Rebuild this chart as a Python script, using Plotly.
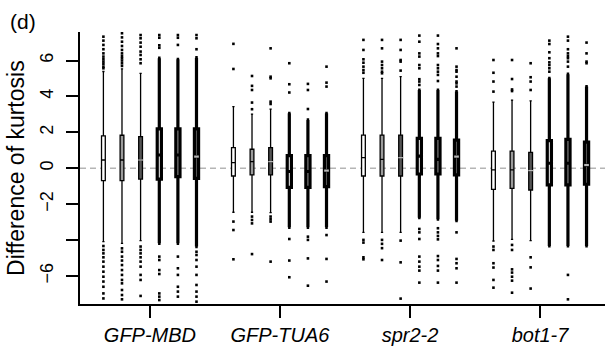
import plotly.graph_objects as go

groups = ["GFP-MBD", "GFP-TUA6", "spr2-2", "bot1-7"]
series = ["s1", "s2", "s3", "s4", "s5", "s6"]

# statistics: one row per series, one value per group
upper_whisker = [
    [5.39, 3.43, 5.01, 3.68],
    [5.54, 3.02, 5.01, 3.80],
    [5.29, 3.29, 5.10, 3.75],
    [6.13, 3.06, 4.36, 5.01],
    [6.07, 2.69, 4.36, 5.24],
    [6.16, 3.06, 4.27, 4.55],
]
q3 = [
    [1.80, 1.15, 1.85, 0.96],
    [1.84, 1.06, 1.85, 0.96],
    [1.76, 1.15, 1.85, 0.89],
    [2.19, 0.70, 1.67, 1.54],
    [2.19, 0.70, 1.67, 1.61],
    [2.19, 0.70, 1.57, 1.46],
]
median = [
    [0.46, 0.31, 0.59, -0.09],
    [0.46, 0.37, 0.50, -0.09],
    [0.46, 0.37, 0.59, -0.13],
    [0.74, -0.18, 0.68, 0.28],
    [0.74, -0.18, 0.50, 0.28],
    [0.65, -0.13, 0.65, 0.18],
]
q1 = [
    [-0.69, -0.43, -0.43, -1.17],
    [-0.69, -0.37, -0.43, -1.12],
    [-0.60, -0.37, -0.43, -1.21],
    [-0.61, -1.06, -0.32, -0.93],
    [-0.47, -1.06, -0.32, -0.93],
    [-0.56, -1.02, -0.37, -0.89],
]
lower_whisker = [
    [-4.09, -2.45, -3.57, -4.05],
    [-4.18, -2.45, -3.57, -3.96],
    [-4.03, -2.47, -3.57, -4.03],
    [-4.18, -3.29, -2.75, -4.33],
    [-4.18, -3.29, -2.84, -4.33],
    [-4.36, -3.29, -2.92, -4.33],
]
outliers = [
    [  # series 1
        [7.33, 7.11, 6.87, 6.63, 6.40, 6.22, 6.07, 5.94, 5.81, 5.66, 5.57,
         -4.33, -4.55, -4.74, -4.96, -5.20, -5.48, -5.76, -6.04, -6.31, -6.60, -6.97, -7.25],
        [6.93, 5.53, -2.97, -3.44, -5.07],
        [7.15, 6.59, 6.07, 5.88, 5.66, 5.47, 5.32, -3.99, -4.14, -4.96, -5.07],
        [6.03, 5.32, 4.83, 4.27, -4.36, -4.55, -5.29, -5.53, -6.22, -6.65],
    ],
    [  # series 2
        [7.52, 7.29, 7.05, 6.81, 6.59, 6.40, 6.25, 6.13, 6.00, 5.85, 5.70,
         -4.46, -4.65, -4.92, -5.14, -5.39, -5.67, -5.94, -6.22, -6.41, -6.78, -7.06, -7.30],
        [5.14, 4.59, 4.36, 3.66, 3.29, -2.69, -2.88, -3.07, -4.78],
        [7.15, 6.68, 5.94, 5.75, 5.57, 5.38, 5.29, -3.99, -4.21, -4.45, -5.11],
        [6.03, 4.97, 4.39, 4.30, -4.27, -4.55, -5.63, -5.81, -6.04, -6.26, -6.93],
    ],
    [  # series 3
        [7.42, 7.24, 7.00, 6.77, 6.50, 6.31, 6.07, 5.85,
         -4.36, -4.55, -4.74, -4.96, -5.20, -5.48, -5.94, -6.22, -7.11],
        [6.68, 5.10, 5.01, 3.71, 3.58, -2.69, -2.84, -2.97, -5.20],
        [7.15, 6.59, 6.03, 5.94, 5.44, -4.03, -5.24, -7.26],
        [5.85, 5.07, 4.83, 4.36, -4.96, -5.52, -6.70],
    ],
    [  # series 4
        [7.42, 7.27, 6.85, 6.71, -4.92, -5.11, -5.67, -5.89, -6.97, -7.15, -7.34],
        [5.85, 4.68, 4.22, -3.94, -5.14, -6.07],
        [7.39, 7.05, 6.40, 6.22, 5.75, 5.57, 4.96, 4.83, 4.64,
         -3.38, -3.57, -3.94, -4.92, -5.20, -5.48, -5.70, -6.37],
        [7.11, 6.92, 6.46, 6.13, 5.90, 5.75, 5.57, 5.38],
    ],
    [  # series 5
        [7.42, 7.27, 6.87, -4.92, -5.57, -5.94, -6.60, -6.87, -7.15],
        [4.70, 4.36, 3.30, -3.81, -3.99, -5.02, -6.54],
        [7.39, 6.92, 6.68, 6.40, 6.25, 5.75, 5.57, 5.38, 5.20, 4.86,
         -3.34, -3.57, -3.77, -3.96, -4.89, -5.11, -5.44, -5.70, -6.37],
        [7.33, 7.11, 6.63, 6.40, 6.25, 6.13, 5.94, 5.66, -5.94, -7.30],
    ],
    [  # series 6
        [7.42, 7.24, 6.63, -4.65, -4.83, -5.11, -5.48, -5.94, -6.50, -6.87, -7.15, -7.43],
        [5.66, 4.77, 4.55, -3.72, -5.05, -6.31],
        [6.68, 5.66, 5.47, 5.38, 5.10, 4.83, 4.73, 4.55, -3.57, -5.05, -5.29, -5.57, -6.37],
        [7.00, 6.40, 5.94, 5.85],
    ],
]
y_tick_values = [-6, -4, -2, 0, 2, 4, 6]
y_tick_labels = ["\u22126", "", "\u22122", "0", "2", "4", "6"]

# styling
offsets = [-0.358, -0.215, -0.072, 0.072, 0.215, 0.358]
fills = ["white", "#9b9b9b", "#555555", "white", "#9b9b9b", "#555555"]
line_w = [1.3, 1.3, 1.3, 3.2, 3.2, 3.2]
box_w = [0.029, 0.029, 0.029, 0.032, 0.032, 0.032]
light_median = [False, False, True, False, False, True]
FONT = "Liberation Sans, Arial, Helvetica, sans-serif"

fig = go.Figure()

fig.add_shape(type="line", xref="paper", x0=0, x1=1, yref="y", y0=0, y1=0,
              line=dict(color="#b5b5b5", width=1.6, dash="6px,4px"), layer="below")

for s in range(len(series)):
    xs = [g + offsets[s] for g in range(len(groups))]
    fig.add_trace(go.Box(
        x=xs, q1=q1[s], median=median[s], q3=q3[s],
        lowerfence=lower_whisker[s], upperfence=upper_whisker[s],
        width=box_w[s], whiskerwidth=0.6,
        fillcolor=fills[s], line=dict(color="black", width=line_w[s]),
        boxpoints=False, showlegend=False, hoverinfo="skip", name=series[s],
    ))
    if light_median[s]:
        mx, my = [], []
        half = 0.018
        for g in range(len(groups)):
            mx += [xs[g] - half, xs[g] + half, None]
            my += [median[s][g], median[s][g], None]
        fig.add_trace(go.Scatter(x=mx, y=my, mode="lines",
                                 line=dict(color="#b8b8b8", width=min(line_w[s], 2.2)),
                                 showlegend=False, hoverinfo="skip"))
    ox, oy = [], []
    for g in range(len(groups)):
        for v in outliers[s][g]:
            ox.append(xs[g])
            oy.append(v)
    fig.add_trace(go.Scatter(x=ox, y=oy, mode="markers",
                             marker=dict(color="black", size=2.6, symbol="square",
                                         line=dict(width=0)),
                             showlegend=False, hoverinfo="skip"))

fig.update_layout(
    width=605, height=349,
    margin=dict(l=80, r=0, t=32, b=45, autoexpand=False),
    paper_bgcolor="white", plot_bgcolor="white",
    font=dict(family=FONT, color="black"),
    xaxis=dict(range=[-0.538, 3.50], tickvals=list(range(len(groups))), ticktext=groups,
               tickfont=dict(size=20, family="Liberation Sans, Arial", style="italic"),
               showline=True, linecolor="black", linewidth=2,
               ticks="outside", ticklen=12, tickwidth=2, tickcolor="black",
               ticklabelstandoff=0, automargin=False,
               showgrid=False, zeroline=False, fixedrange=True),
    yaxis=dict(range=[-7.56, 7.59], tickvals=y_tick_values, ticktext=y_tick_labels,
               tickangle=-90, tickfont=dict(size=18), ticklabelstandoff=6,
               showline=True, linecolor="black", linewidth=2, automargin=False,
               ticks="outside", ticklen=12, tickwidth=2, tickcolor="black",
               showgrid=False, zeroline=False, fixedrange=True),
    annotations=[
        dict(text="Difference of kurtosis", xref="paper", yref="paper",
             x=-0.122, y=0.5, textangle=-90, showarrow=False,
             font=dict(size=23, family=FONT), xanchor="center", yanchor="middle"),
        dict(text="(d)", xref="paper", yref="paper", x=-0.108, y=1.04,
             showarrow=False, font=dict(size=21, family=FONT),
             xanchor="center", yanchor="middle"),
    ],
)

fig.write_html(
    "out.html",
    config={"displayModeBar": False, "staticPlot": True},
    post_script="document.body.style.margin='0';document.body.style.overflow='hidden';",
)
